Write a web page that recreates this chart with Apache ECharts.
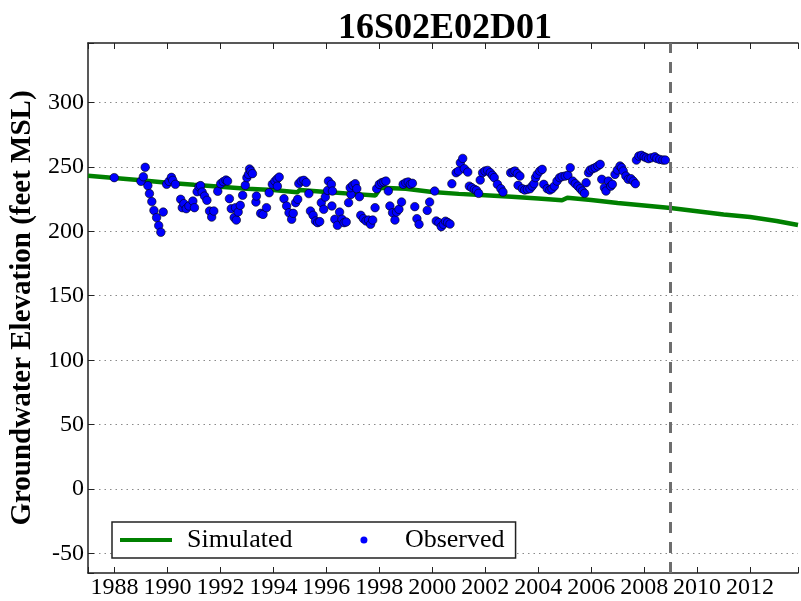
<!DOCTYPE html>
<html>
<head>
<meta charset="utf-8">
<title>16S02E02D01</title>
<script src="https://cdn.jsdelivr.net/npm/echarts@6/dist/echarts.min.js"></script>
<style>
  html, body { margin: 0; padding: 0; background: #fff; }
  #chart { width: 801px; height: 601px; }
</style>
</head>
<body>
<div id="chart"></div>
<script>
// simulated heads (decimal year / feet MSL)
var simYears = [1987.0, 1988.0, 1989.0, 1990.0, 1991.0, 1992.0, 1993.0, 1994.0, 1994.9, 1995.0,
  1996.0, 1997.0, 1997.85, 1998.05, 1999.0, 2000.0, 2001.0, 2002.0, 2003.0, 2004.0,
  2004.9, 2005.1, 2006.0, 2007.0, 2008.0, 2009.0, 2010.0, 2011.0, 2012.0, 2013.0, 2013.81];
var simLevels = [243.0, 241.3, 239.5, 237.7, 236.0, 234.5, 233.0, 232.0, 230.2, 232.0,
  230.4, 229.0, 227.8, 233.8, 233.0, 230.5, 229.0, 228.0, 226.8, 225.5,
  224.0, 226.0, 224.2, 222.0, 220.0, 218.0, 215.5, 213.0, 211.0, 208.0, 204.8];

// observed heads
var obsYears = [1987.99, 1989.0, 1989.09, 1989.16, 1989.26, 1989.32, 1989.41, 1989.49, 1989.59, 1989.67,
  1989.75, 1989.84, 1989.97, 1990.06, 1990.15, 1990.2, 1990.3, 1990.5, 1990.56, 1990.62,
  1990.71, 1990.81, 1990.96, 1991.02, 1991.12, 1991.19, 1991.25, 1991.31, 1991.4, 1991.49,
  1991.59, 1991.67, 1991.75, 1991.9, 1992.01, 1992.11, 1992.21, 1992.27, 1992.34, 1992.41,
  1992.52, 1992.57, 1992.6, 1992.67, 1992.75, 1992.84, 1992.94, 1993.0, 1993.06, 1993.1,
  1993.15, 1993.21, 1993.34, 1993.36, 1993.52, 1993.61, 1993.74, 1993.84, 1993.96, 1994.06,
  1994.14, 1994.22, 1994.15, 1994.4, 1994.5, 1994.59, 1994.69, 1994.75, 1994.84, 1994.92,
  1994.96, 1995.05, 1995.15, 1995.24, 1995.34, 1995.4, 1995.5, 1995.59, 1995.67, 1995.75,
  1995.81, 1995.9, 1995.96, 1996.05, 1996.08, 1996.19, 1996.23, 1996.21, 1996.32, 1996.42,
  1996.5, 1996.59, 1996.67, 1996.75, 1996.84, 1996.93, 1996.9, 1997.0, 1997.09, 1997.15,
  1997.25, 1997.3, 1997.4, 1997.5, 1997.59, 1997.67, 1997.75, 1997.84, 1997.9, 1998.0,
  1998.09, 1998.17, 1998.25, 1998.34, 1998.4, 1998.5, 1998.59, 1998.65, 1998.74, 1998.84,
  1998.9, 1999.0, 1999.09, 1999.17, 1999.25, 1999.34, 1999.42, 1999.5, 1999.81, 1999.9,
  2000.09, 2000.15, 2000.25, 2000.34, 2000.42, 2000.5, 2000.58, 2000.67, 2000.74, 2000.9,
  2000.99, 2001.06, 2001.15, 2001.21, 2001.34, 2001.4, 2001.49, 2001.59, 2001.67, 2001.75,
  2001.81, 2001.9, 2001.99, 2002.09, 2002.19, 2002.27, 2002.34, 2002.46, 2002.59, 2002.67,
  2002.96, 2003.05, 2003.12, 2003.21, 2003.31, 2003.24, 2003.4, 2003.49, 2003.59, 2003.69,
  2003.77, 2003.84, 2003.9, 2003.96, 2004.06, 2004.15, 2004.21, 2004.34, 2004.44, 2004.52,
  2004.61, 2004.71, 2004.81, 2004.9, 2005.02, 2005.12, 2005.21, 2005.3, 2005.4, 2005.5,
  2005.59, 2005.67, 2005.75, 2005.81, 2005.9, 2005.96, 2006.06, 2006.15, 2006.25, 2006.34,
  2006.4, 2006.5, 2006.56, 2006.65, 2006.74, 2006.8, 2006.9, 2006.99, 2007.09, 2007.15,
  2007.21, 2007.31, 2007.4, 2007.5, 2007.59, 2007.67, 2007.71, 2007.8, 2007.9, 2008.0,
  2008.08, 2008.17, 2008.27, 2008.4, 2008.48, 2008.59, 2008.71, 2008.8];
var obsLevels = [241.6, 238.7, 242.3, 249.6, 235.4, 229.2, 223.0, 216.2, 210.6, 204.4,
  199.2, 214.9, 236.4, 238.7, 241.8, 239.5, 236.4, 224.8, 218.3, 221.4,
  217.5, 219.6, 223.4, 218.3, 230.7, 234.6, 235.4, 230.4, 227.3, 224.0,
  215.7, 211.0, 215.7, 231.0, 236.9, 238.5, 239.7, 238.9, 225.3, 217.5,
  210.6, 218.3, 208.7, 214.9, 220.1, 227.9, 235.6, 241.6, 244.1, 248.3,
  246.7, 244.7, 222.7, 227.3, 213.9, 213.1, 218.3, 229.9, 236.5, 238.8,
  240.6, 242.0, 235.0, 225.3, 219.6, 214.4, 209.3, 213.9, 222.2, 224.8,
  237.0, 239.0, 239.5, 237.8, 229.2, 215.7, 212.4, 208.0, 206.7, 207.5,
  222.2, 217.0, 226.5, 231.7, 238.9, 236.4, 231.2, 219.6, 209.3, 204.6,
  214.9, 209.3, 206.7, 207.2, 222.2, 228.6, 233.8, 235.6, 236.9, 233.0,
  226.8, 212.4, 209.8, 208.0, 208.7, 205.4, 208.7, 218.3, 233.0, 236.4,
  237.7, 238.2, 238.9, 231.2, 219.6, 214.4, 208.7, 214.9, 217.0, 222.7,
  236.4, 237.7, 238.2, 236.4, 237.2, 219.1, 209.8, 205.4, 216.2, 222.7,
  231.2, 208.0, 206.7, 203.6, 205.4, 207.8, 206.8, 205.6, 236.9, 245.4,
  246.7, 253.2, 256.5, 248.5, 245.9, 235.0, 233.8, 232.5, 231.7, 229.4,
  239.7, 245.4, 246.7, 247.2, 245.4, 243.4, 241.6, 236.4, 233.0, 230.4,
  245.4, 245.9, 246.7, 244.7, 242.8, 235.6, 233.0, 232.0, 232.5, 233.0,
  235.0, 236.9, 241.6, 244.1, 246.7, 248.0, 236.4, 233.0, 232.0, 233.0,
  235.0, 238.9, 241.6, 242.4, 242.8, 243.4, 249.3, 238.9, 236.9, 235.0,
  233.0, 231.2, 229.4, 237.7, 245.4, 247.5, 248.5, 249.3, 250.6, 251.9,
  240.3, 233.8, 231.2, 238.9, 235.0, 236.4, 244.1, 247.5, 250.6, 249.3,
  246.7, 242.8, 240.3, 240.8, 238.9, 236.9, 255.2, 258.3, 258.9, 257.8,
  257.0, 256.3, 257.0, 257.8, 256.5, 255.7, 255.2, 255.2];

var calibrationEnd = 2009.0;
var xMin = 1987.0, xMax = 2013.81;
var yMin = -65, yMax = 346;

var serif = '"Liberation Serif", "DejaVu Serif", serif';

var simData = simYears.map(function (y, i) { return [y, simLevels[i]]; });
var obsData = obsYears.map(function (y, i) { return [y, obsLevels[i]]; });

var chart = echarts.init(document.getElementById('chart'), null, { renderer: 'canvas' });

var axisLine = { show: true, onZero: false, lineStyle: { color: '#222', width: 1.5 } };
var innerTick = { show: true, inside: true, length: 6, lineStyle: { color: '#222', width: 1 } };

var option = {
  animation: false,
  backgroundColor: '#fff',
  title: {
    text: '16S02E02D01',
    left: 440,
    top: 6,
    textAlign: 'center',
    textStyle: { fontFamily: serif, fontSize: 36, fontWeight: 'bold', color: '#000' }
  },
  // the frame's right side is cut off by the canvas edge
  grid: { left: 86, right: 0, top: 43, bottom: 28, containLabel: false },
  legend: {
    left: 112,
    top: 522,
    orient: 'horizontal',
    itemWidth: 52,
    itemHeight: 7,
    itemGap: 68,
    padding: [5, 11, 5, 8],
    borderColor: '#222',
    borderWidth: 1.5,
    borderRadius: 0,
    backgroundColor: '#fff',
    textStyle: { fontFamily: serif, fontSize: 26, color: '#000', padding: [0, 0, 0, 10], lineHeight: 26 },
    data: [
      { name: 'Simulated', icon: 'path://M0,0M52,7M0,1.5L52,1.5L52,5.5L0,5.5Z' },
      { name: 'Observed', icon: 'circle', itemStyle: { borderWidth: 0 } }
    ]
  },
  xAxis: [{
    type: 'value',
    position: 'bottom',
    min: xMin,
    max: xMax,
    splitNumber: 13,
    axisLine: axisLine,
    axisTick: innerTick,
    axisLabel: {
      margin: 3,
      fontFamily: serif, fontSize: 24, color: '#000',
      formatter: function (v) { return v % 2 === 0 ? String(v) : ''; }
    },
    splitLine: { show: false }
  }, {
    type: 'value',
    position: 'top',
    min: xMin,
    max: xMax,
    splitNumber: 13,
    axisLine: axisLine,
    axisTick: innerTick,
    axisLabel: { show: false },
    splitLine: { show: false }
  }],
  yAxis: [{
    type: 'value',
    position: 'left',
    min: yMin,
    max: yMax,
    splitNumber: 8,
    name: 'Groundwater Elevation (feet MSL)',
    nameLocation: 'middle',
    nameRotate: 90,
    nameGap: 51,
    nameTextStyle: { fontFamily: serif, fontSize: 29, fontWeight: 'bold', color: '#000' },
    axisLine: axisLine,
    axisTick: innerTick,
    axisLabel: {
      margin: 4,
      fontFamily: serif, fontSize: 24, color: '#000',
      formatter: function (v) { return v % 50 === 0 ? String(v) : ''; }
    },
    splitLine: {
      show: true,
      showMinLine: false,
      showMaxLine: false,
      lineStyle: { color: '#8a8a8a', width: 1, type: [1.5, 4] }
    }
  }],
  series: [{
    name: 'Simulated',
    type: 'line',
    data: simData,
    symbol: 'none',
    showSymbol: false,
    lineStyle: { color: '#008000', width: 4.5 },
    itemStyle: { color: '#008000' },
    z: 2
  }, {
    name: 'Observed',
    type: 'scatter',
    data: obsData,
    symbol: 'circle',
    symbolSize: 8.5,
    itemStyle: { color: '#0000ff', borderColor: '#000', borderWidth: 0.6, opacity: 1 },
    z: 3,
    markLine: {
      silent: true,
      symbol: 'none',
      label: { show: false },
      lineStyle: { color: '#6e6e6e', width: 3, type: [11, 9] },
      data: [{ xAxis: calibrationEnd }]
    }
  }]
};

chart.setOption(option);
</script>
</body>
</html>
